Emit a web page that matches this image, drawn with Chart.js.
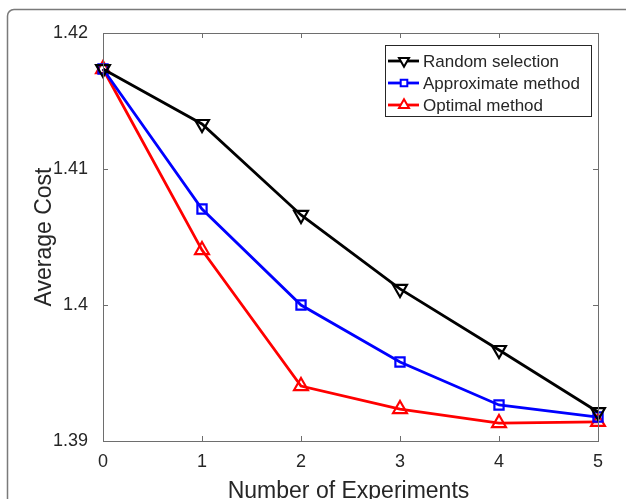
<!DOCTYPE html>
<html>
<head>
<meta charset="utf-8">
<script src="https://cdn.jsdelivr.net/npm/chart.js@4.4.1/dist/chart.umd.min.js"></script>
<style>
  html, body { margin: 0; padding: 0; background: #fff; }
  #wrap { width: 626px; height: 499px; position: relative; }
</style>
</head>
<body>
<div id="wrap"><canvas id="c" width="626" height="499"></canvas></div>
<script>
// data
const experiments = [0, 1, 2, 3, 4, 5];
const randomSel = [1.41735, 1.41331, 1.40662, 1.40118, 1.39669, 1.39213];
const approxMethod = [1.41735, 1.40706, 1.40000, 1.39581, 1.39265, 1.39176];
const optimalMethod = [1.41735, 1.40404, 1.39404, 1.39235, 1.39132, 1.39140];
const yTicks = [1.39, 1.40, 1.41, 1.42];
const seriesNames = ['Random selection', 'Approximate method', 'Optimal method'];

const FONT = '"Liberation Sans", Arial, Helvetica, sans-serif';
const TXT = '#262626';
const AXIS = '#6e6e6e';

const pts = arr => arr.map((v, i) => ({ x: experiments[i], y: v }));

// frame, axes box with inward ticks, axis titles and legend
const decor = {
  id: 'decor',
  beforeDraw(chart) {
    const ctx = chart.ctx;
    ctx.save();
    ctx.strokeStyle = '#7a7a7a';
    ctx.lineWidth = 1.5;
    ctx.beginPath();
    ctx.moveTo(7.5, 499);
    ctx.lineTo(7.5, 16);
    ctx.arcTo(7.5, 9.5, 14, 9.5, 6.5);
    ctx.lineTo(626, 9.5);
    ctx.stroke();
    ctx.restore();
  },
  afterDatasetsDraw(chart) {
    const { ctx, chartArea: a, scales: { x, y } } = chart;
    ctx.save();
    ctx.strokeStyle = AXIS;
    ctx.lineWidth = 1;
    ctx.strokeRect(Math.round(a.left) + 0.5, Math.round(a.top) + 0.5,
      Math.round(a.right - a.left), Math.round(a.bottom - a.top));
    ctx.beginPath();
    experiments.forEach(v => {
      const px = Math.round(x.getPixelForValue(v)) + 0.5;
      ctx.moveTo(px, a.bottom); ctx.lineTo(px, a.bottom - 5);
      ctx.moveTo(px, a.top); ctx.lineTo(px, a.top + 5);
    });
    yTicks.forEach(v => {
      const py = Math.round(y.getPixelForValue(v)) + 0.5;
      ctx.moveTo(a.left, py); ctx.lineTo(a.left + 5, py);
      ctx.moveTo(a.right, py); ctx.lineTo(a.right - 5, py);
    });
    ctx.stroke();

    // axis titles
    ctx.fillStyle = TXT;
    ctx.font = '23px ' + FONT;
    ctx.textAlign = 'center';
    ctx.textBaseline = 'alphabetic';
    ctx.fillText('Number of Experiments', (a.left + a.right) / 2 - 2, 498);
    ctx.save();
    ctx.translate(51, (a.top + a.bottom) / 2);
    ctx.rotate(-Math.PI / 2);
    ctx.fillText('Average Cost', 0, 0);
    ctx.restore();

    // legend
    const bx = 385.5, by = 45.5, bw = 206, bh = 71;
    ctx.fillStyle = '#fff';
    ctx.fillRect(bx, by, bw, bh);
    ctx.strokeStyle = '#262626';
    ctx.lineWidth = 1;
    ctx.strokeRect(bx, by, bw, bh);
    ctx.font = '17px ' + FONT;
    ctx.textAlign = 'left';
    ctx.textBaseline = 'middle';
    chart.data.datasets.forEach((ds, i) => {
      const ry = 61 + i * 22;
      ctx.strokeStyle = ds.borderColor;
      ctx.lineWidth = 2.8;
      ctx.beginPath();
      ctx.moveTo(388, ry); ctx.lineTo(419, ry);
      ctx.stroke();
      ctx.fillStyle = '#fff';
      ctx.lineWidth = 2;
      Chart.helpers.drawPoint(ctx, {
        pointStyle: ds.pointStyle,
        rotation: ds.pointRotation || 0,
        radius: ds.pointRadius * 0.72,
        borderWidth: 2
      }, 404, ry);
      ctx.fillStyle = TXT;
      ctx.fillText(seriesNames[i], 423, ry + 1);
    });
    ctx.restore();
  }
};

const mk = (label, data, color, style, radius, rot) => ({
  label,
  data: pts(data),
  borderColor: color,
  backgroundColor: 'rgba(0,0,0,0)',
  borderWidth: 2.8,
  pointStyle: style,
  pointRotation: rot || 0,
  pointRadius: radius,
  pointBorderWidth: 2.2,
  pointBorderColor: color,
  pointBackgroundColor: 'rgba(0,0,0,0)',
  tension: 0,
  clip: false
});

new Chart(document.getElementById('c'), {
  type: 'line',
  data: {
    datasets: [
      mk(seriesNames[0], randomSel, '#000000', 'triangle', 8, 180),
      mk(seriesNames[1], approxMethod, '#0000ff', 'rect', 6.5),
      mk(seriesNames[2], optimalMethod, '#ff0000', 'triangle', 8)
    ]
  },
  options: {
    responsive: false,
    animation: false,
    devicePixelRatio: 1,
    layout: { padding: { top: 33, right: 28, left: 0, bottom: 0 } },
    plugins: { legend: { display: false }, tooltip: { enabled: false } },
    scales: {
      x: {
        type: 'linear',
        min: 0, max: 5,
        afterFit: s => { s.height = 58; },
        afterBuildTicks: s => { s.ticks = experiments.map(v => ({ value: v })); },
        grid: { display: false, drawTicks: false },
        border: { display: false },
        ticks: { color: TXT, font: { family: FONT, size: 18 }, padding: 10, maxRotation: 0 }
      },
      y: {
        min: 1.39, max: 1.42,
        afterFit: s => { s.width = 103; },
        afterBuildTicks: s => { s.ticks = yTicks.map(v => ({ value: v })); },
        grid: { display: false, drawTicks: false },
        border: { display: false },
        ticks: {
          color: TXT, font: { family: FONT, size: 18 }, padding: 15,
          callback: v => String(+v.toFixed(2))
        }
      }
    }
  },
  plugins: [decor]
});
</script>
</body>
</html>
